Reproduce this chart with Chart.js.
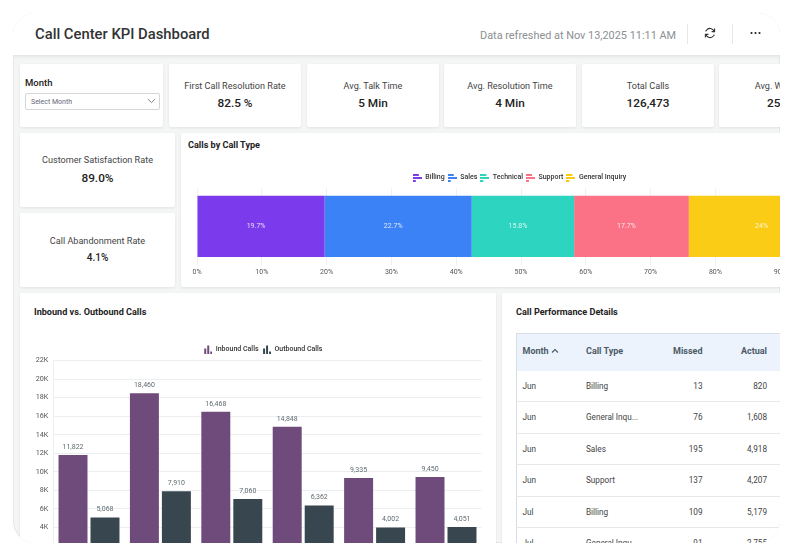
<!DOCTYPE html>
<html>
<head>
<meta charset="utf-8">
<script src="https://cdn.jsdelivr.net/npm/chart.js@4"></script>
<style>
  html, body { margin: 0; padding: 0; background: #fff; width: 793px; height: 556px; overflow: hidden; font-family: Roboto, sans-serif; color: #333; }
  #frame { position: absolute; left: 13px; top: 13px; width: 767px; height: 530px; border-radius: 22px; overflow: hidden; background: #f4f5f5; box-shadow: inset 0 0 0 1px #e6e8e8; }
  #topbar { position: absolute; left: 0; top: 0; width: 767px; height: 42px; background: #fff; box-shadow: 0 1px 4px rgba(0,0,0,.1); }
  .abs { position: absolute; white-space: nowrap; }
  .card { position: absolute; background: #fff; box-shadow: 0 1px 3px rgba(0,0,0,.08); border-radius: 2px; overflow: hidden; }
  .kpi-title { position: absolute; left: 0; right: 0; text-align: center; font-size: 9.1px; color: #444; white-space: nowrap; }
  .kpi-value { position: absolute; left: 0; right: 0; text-align: center; font-size: 11.8px; font-weight: 500; color: #222; white-space: nowrap; }
  .card-title { position: absolute; font-size: 9.1px; font-weight: 700; color: #222; white-space: nowrap; }
  canvas { position: absolute; }
  #tbl { position: absolute; left: 14px; top: 40px; width: 300px; border-collapse: collapse; table-layout: fixed; font-size: 8.2px; color: #444; border-left: 1px solid #d6dee8; }
  #tbl th { height: 37px; background: #edf3fc; color: #4c5a68; font-size: 9px; font-weight: 700; border-top: 1px solid #d6dee8; text-align: left; padding: 0 0 2px 0; box-sizing: border-box; }
  #tbl td { height: 30.5px; border-bottom: 1px solid #e6e8ea; padding: 0; white-space: nowrap; }
  #tbl .r { text-align: right; }
</style>
</head>
<body>
<div id="frame">
  <div id="topbar">
    <div class="abs" style="left:22px;top:12px;font-size:14.8px;font-weight:500;color:#333">Call Center KPI Dashboard</div>
    <div class="abs" style="left:467px;top:16px;font-size:10.9px;color:#8b8f92">Data refreshed at Nov 13,2025 11:11 AM</div>
    <div class="abs" style="left:674px;top:11px;width:1px;height:20px;background:#e6e6e6"></div>
    <div class="abs" style="left:719px;top:11px;width:1px;height:20px;background:#e6e6e6"></div>
    <svg class="abs" style="left:691px;top:14px" width="12" height="12" viewBox="0 0 12 12" fill="none" stroke="#333" stroke-width="1.1">
      <path d="M10.2 4.6A4.4 4.4 0 0 0 2.4 3.2L1.6 4.4"/><path d="M1.8 7.4A4.4 4.4 0 0 0 9.6 8.8l.8-1.2"/>
      <path d="M10.6 1.6v3h-3" /><path d="M1.4 10.4v-3h3"/>
    </svg>
    <svg class="abs" style="left:737px;top:18px" width="11" height="4" viewBox="0 0 11 4" fill="#222">
      <circle cx="1.5" cy="2" r="1.1"/><circle cx="5.5" cy="2" r="1.1"/><circle cx="9.5" cy="2" r="1.1"/>
    </svg>
  </div>

  <div class="card" style="left:7px;top:51px;width:143px;height:63px">
    <div class="abs" style="left:5px;top:13px;font-size:9.5px;font-weight:500;color:#222">Month</div>
    <div class="abs" style="left:5px;top:29px;width:133px;height:15px;border:1px solid #d4d6d8;border-radius:2px"></div>
    <div class="abs" style="left:11px;top:34px;font-size:7px;color:#667">Select Month</div>
    <svg class="abs" style="left:127px;top:34px" width="9" height="6" viewBox="0 0 9 6" fill="none" stroke="#777" stroke-width=".9"><path d="M.8 1l3.7 3.6L8.2 1"/></svg>
  </div>
  <div id="kpiRow"></div>

  <div class="card" style="left:7px;top:120px;width:155px;height:74px">
    <div class="kpi-title" style="top:22px">Customer Satisfaction Rate</div>
    <div class="kpi-value" style="top:38px">89.0%</div>
  </div>
  <div class="card" style="left:7px;top:200px;width:155px;height:74px">
    <div class="kpi-title" style="top:23px">Call Abandonment Rate</div>
    <div class="kpi-value" style="top:39px;font-size:10px">4.1%</div>
  </div>

  <div class="card" style="left:168px;top:120px;width:620px;height:154px">
    <div class="card-title" style="left:7px;top:7px">Calls by Call Type</div>
    <canvas id="typeChart" style="left:0;top:29px" width="677" height="117"></canvas>
  </div>

  <div class="card" style="left:7px;top:280px;width:476px;height:260px">
    <div class="card-title" style="left:14px;top:14px">Inbound vs. Outbound Calls</div>
    <canvas id="callsChart" style="left:10px;top:47px" width="466" height="247"></canvas>
  </div>

  <div class="card" style="left:489px;top:280px;width:290px;height:260px">
    <div class="card-title" style="left:14px;top:14px">Call Performance Details</div>
    <table id="tbl"></table>
  </div>
</div>

<script>
const kpiTitles = ['First Call Resolution Rate', 'Avg. Talk Time', 'Avg. Resolution Time', 'Total Calls', 'Avg. Wait Time'];
const kpiValues = ['82.5 %', '5 Min', '4 Min', '126,473', '25 Sec'];

const callTypes = ['Billing', 'Sales', 'Technical', 'Support', 'General Inquiry'];
const callTypeShare = [19.7, 22.7, 15.8, 17.7, 24];
const callTypeColors = ['#7c3aed', '#3b82f6', '#2dd4bf', '#fb7185', '#facc15'];

const months = ['Jun', 'Jul', 'Aug', 'Sep', 'Oct', 'Nov'];
const inboundCalls = [11822, 18460, 16468, 14848, 9335, 9450];
const outboundCalls = [5068, 7910, 7060, 6362, 4002, 4051];

const tableMonths = ['Jun', 'Jun', 'Jun', 'Jun', 'Jul', 'Jul'];
const tableTypes = ['Billing', 'General Inqu...', 'Sales', 'Support', 'Billing', 'General Inqu...'];
const tableMissed = ['13', '76', '195', '137', '109', '91'];
const tableActual = ['820', '1,608', '4,918', '4,207', '5,179', '2,755'];

const kpiLefts = [156, 294, 431, 569, 706];
document.getElementById('kpiRow').innerHTML = kpiTitles.map((t, i) => `<div class="card" style="left:${kpiLefts[i]}px;top:51px;width:132px;height:63px"><div class="kpi-title" style="top:17px">${t}</div><div class="kpi-value" style="top:32px">${kpiValues[i]}</div></div>`).join('');

document.getElementById('tbl').innerHTML =
  `<colgroup><col style="width:6px"><col style="width:63.5px"><col style="width:64px"><col style="width:52.5px"><col style="width:64.5px"><col></colgroup>` +
  `<tr><th></th><th>Month <svg width="8" height="6" viewBox="0 0 8 6" fill="none" stroke="#4c5a68" stroke-width="1.2"><path d="M1 4.5l3-3 3 3"/></svg></th><th>Call Type</th><th class="r">Missed</th><th class="r">Actual</th><th></th></tr>` +
  tableMonths.map((m, i) => `<tr><td></td><td>${m}</td><td>${tableTypes[i]}</td><td class="r">${tableMissed[i]}</td><td class="r">${tableActual[i]}</td><td></td></tr>`).join('');

function barIcon(color, horizontal) {
  const c = document.createElement('canvas');
  c.width = 9; c.height = 9;
  const x = c.getContext('2d');
  x.fillStyle = color;
  if (horizontal) {
    x.fillRect(0, 1, 6, 2); x.fillRect(0, 4, 9, 2); x.fillRect(0, 7, 3, 2);
  } else {
    x.fillRect(1, 4, 2, 5); x.fillRect(4, 1, 2, 8); x.fillRect(7, 7, 2, 2);
  }
  return c;
}

Chart.defaults.font.family = 'Roboto, sans-serif';
Chart.defaults.animation = false;
Chart.defaults.responsive = false;

// the reference legends sit closer to the plot than the default layout allows
function shiftLegend(dx, dy) {
  return {
    id: 'shiftLegend',
    afterLayout(chart) {
      const l = chart.legend;
      l.left += dx; l.right += dx; l.top += dy; l.bottom += dy;
    }
  };
}

const segmentLabels = {
  id: 'segmentLabels',
  afterDatasetsDraw(chart) {
    const ctx = chart.ctx;
    ctx.save();
    ctx.font = '7px Roboto';
    ctx.fillStyle = 'rgba(255,255,255,.82)';
    ctx.textAlign = 'center';
    ctx.textBaseline = 'middle';
    chart.data.datasets.forEach((d, i) => {
      const bar = chart.getDatasetMeta(i).data[0];
      const p = bar.getCenterPoint();
      ctx.fillText(d.data[0] + '%', p.x - 5, p.y);
    });
    ctx.restore();
  }
};

const valueLabels = {
  id: 'valueLabels',
  afterDatasetsDraw(chart) {
    const ctx = chart.ctx;
    ctx.save();
    ctx.font = '7px Roboto';
    ctx.fillStyle = '#5f6b70';
    ctx.textAlign = 'center';
    ctx.textBaseline = 'middle';
    chart.data.datasets.forEach((d, i) => {
      chart.getDatasetMeta(i).data.forEach((bar, j) => {
        ctx.fillText(d.data[j].toLocaleString('en-US'), bar.x, bar.y - 8);
      });
    });
    ctx.restore();
  }
};

new Chart(document.getElementById('typeChart'), {
  type: 'bar',
  data: {
    labels: ['Calls'],
    datasets: callTypes.map((t, i) => ({
      label: t,
      data: [callTypeShare[i]],
      backgroundColor: callTypeColors[i],
      pointStyle: barIcon(callTypeColors[i], true),
      barPercentage: 1,
      categoryPercentage: 0.8
    }))
  },
  options: {
    indexAxis: 'y',
    layout: { padding: { left: 16, right: 13, top: 6, bottom: 0 } },
    plugins: {
      tooltip: { enabled: false },
      legend: {
        labels: { usePointStyle: true, pointStyleWidth: 9, padding: 3, color: '#333', font: { size: 7, weight: '500' } }
      }
    },
    scales: {
      y: { stacked: true, display: false },
      x: {
        stacked: true, min: 0, max: 100,
        grid: { color: '#eef0f1', drawTicks: false },
        border: { display: false },
        ticks: { stepSize: 10, padding: 3, maxRotation: 0, color: '#555', font: { size: 7 }, callback: v => v + '%' }
      }
    }
  },
  plugins: [segmentLabels, shiftLegend(-1.5, 3)]
});

new Chart(document.getElementById('callsChart'), {
  type: 'bar',
  data: {
    labels: months,
    datasets: [
      { label: 'Inbound Calls', data: inboundCalls, backgroundColor: '#6f4b7b', pointStyle: barIcon('#6f4b7b', false), barPercentage: 0.906, categoryPercentage: 0.896 },
      { label: 'Outbound Calls', data: outboundCalls, backgroundColor: '#38474f', pointStyle: barIcon('#38474f', false), barPercentage: 0.906, categoryPercentage: 0.896 }
    ]
  },
  options: {
    layout: { padding: { left: 0, right: 14.3, top: 0, bottom: 0 } },
    plugins: {
      tooltip: { enabled: false },
      legend: {
        labels: { usePointStyle: true, pointStyleWidth: 9, padding: 3.5, color: '#333', font: { size: 7, weight: '500' } }
      }
    },
    scales: {
      x: { grid: { display: false }, border: { color: '#eceff1' }, ticks: { color: '#555', font: { size: 7 } } },
      y: {
        min: 0, max: 22000,
        afterFit: s => { s.width = 23.3; },
        grid: { color: '#eceff1', drawTicks: false },
        border: { color: '#eceff1' },
        ticks: { stepSize: 2000, padding: 5, color: '#555', font: { size: 7.2 }, callback: v => v / 1000 + 'K' }
      }
    }
  },
  plugins: [valueLabels, shiftLegend(7, 2)]
});
</script>
</body>
</html>
